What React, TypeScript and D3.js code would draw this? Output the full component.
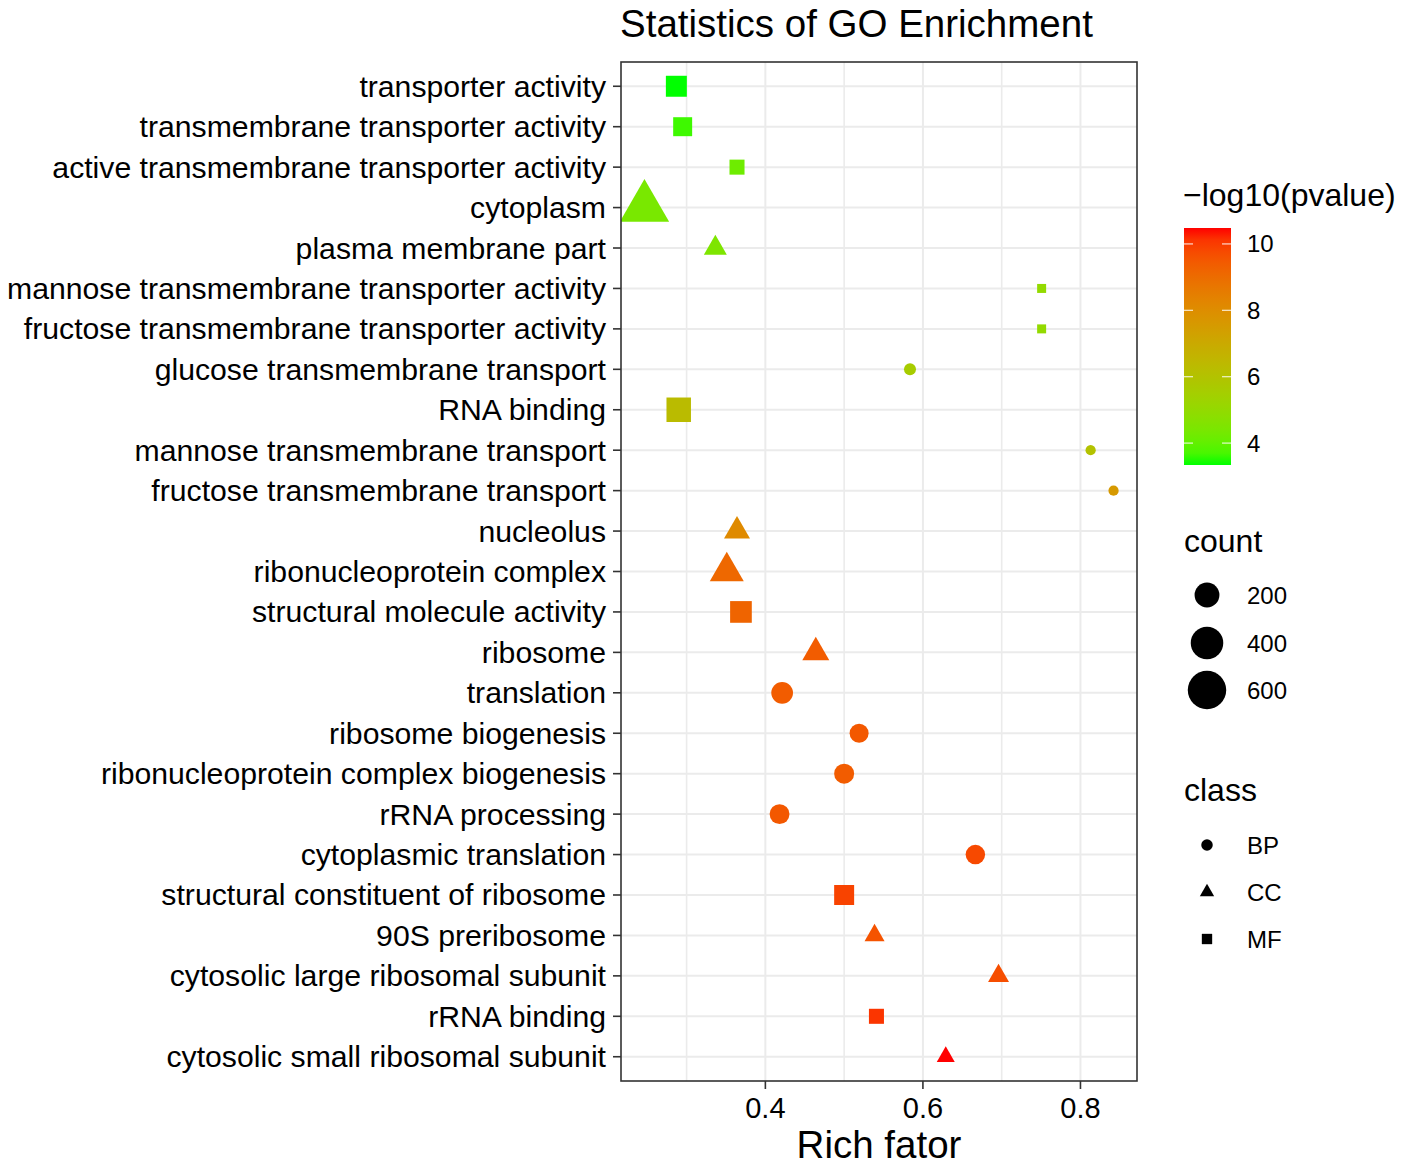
import React from "react";
import * as d3 from "d3";

const terms = [
  "transporter activity",
  "transmembrane transporter activity",
  "active transmembrane transporter activity",
  "cytoplasm",
  "plasma membrane part",
  "mannose transmembrane transporter activity",
  "fructose transmembrane transporter activity",
  "glucose transmembrane transport",
  "RNA binding",
  "mannose transmembrane transport",
  "fructose transmembrane transport",
  "nucleolus",
  "ribonucleoprotein complex",
  "structural molecule activity",
  "ribosome",
  "translation",
  "ribosome biogenesis",
  "ribonucleoprotein complex biogenesis",
  "rRNA processing",
  "cytoplasmic translation",
  "structural constituent of ribosome",
  "90S preribosome",
  "cytosolic large ribosomal subunit",
  "rRNA binding",
  "cytosolic small ribosomal subunit",
];
const classes = ["MF","MF","MF","CC","CC","MF","MF","BP","MF","BP","BP","CC","CC","MF","CC","BP","BP","BP","BP","BP","MF","CC","CC","MF","CC"];
const richFactor = [0.287,0.295,0.364,0.2465,0.3365,0.7507,0.7507,0.5836,0.290,0.8129,0.842,0.364,0.351,0.369,0.464,0.4213,0.519,0.500,0.418,0.6666,0.500,0.5386,0.696,0.541,0.629];
const negLogP = [3.34,3.6,4.2,4.4,4.5,5.0,5.0,5.6,6.3,6.0,7.6,8.1,9.1,9.2,9.4,9.4,9.5,9.4,9.5,9.8,9.9,9.6,9.7,10.1,10.48];
const counts = [168,127,63,640,85,8,8,19,254,9,9,122,254,184,136,138,94,109,107,101,147,55,64,63,38];

const colorTicks = [4, 6, 8, 10];
const sizeBreaks = [200, 400, 600];
const classLevels = ["BP", "CC", "MF"];
const xMajor = [0.4, 0.6, 0.8];
const xMinor = [0.3, 0.5, 0.7];

const FONT = "'Liberation Sans', Arial, Helvetica, sans-serif";

const shapeFor: Record<string, any> = {
  BP: d3.symbolCircle,
  CC: d3.symbolTriangle,
  MF: d3.symbolSquare,
};

// convert a "circle-equivalent diameter" into symbol area per shape
function symbolArea(cls: string, d: number) {
  if (cls === "BP") return Math.PI * (d / 2) * (d / 2);
  if (cls === "MF") {
    const s = d * 0.9;
    return s * s;
  }
  const s = d * 1.25; // triangle side
  return (Math.sqrt(3) / 4) * s * s;
}

export default function App() {
  const W = 1421, H = 1166;
  const pL = 621, pR = 1137, pT = 62, pB = 1081;

  const [xmin, xmax] = d3.extent(richFactor) as [number, number];
  const xpad = (xmax - xmin) * 0.05;
  const x = d3.scaleLinear().domain([xmin - xpad, xmax + xpad]).range([pL, pR]);
  const y = d3.scalePoint<string>().domain(terms).range([pT, pB]).padding(0.6);

  const [cmin, cmax] = d3.extent(negLogP) as [number, number];
  const color = d3.scaleLinear<string>().domain([cmin, cmax]).range(["#00ff00", "#ff0000"]).interpolate(d3.interpolateLab);

  const [nmin, nmax] = d3.extent(counts) as [number, number];
  const size = d3.scaleSqrt().domain([nmin, nmax]).range([10, 39.5]);

  // colorbar
  const cbX = 1184, cbW = 47, cbT = 228, cbB = 465;
  const cbY = d3.scaleLinear().domain([cmin, cmax]).range([cbB, cbT]);
  const stops = d3.range(0, 1.0001, 0.05).map((t) => ({ t, c: color(cmin + t * (cmax - cmin)) }));

  const sizeKeyY = [595, 643, 690];
  const classKeyY = [845, 892, 939];
  const keyX = 1207;

  return (
    <svg width={W} height={H} style={{ position: "absolute", left: 0, top: 0, background: "#fff" }} fontFamily={FONT}>
      <defs>
        <linearGradient id="cbar" x1="0" y1="1" x2="0" y2="0">
          {stops.map((s, i) => (
            <stop key={i} offset={s.t} stopColor={s.c} />
          ))}
        </linearGradient>
        <clipPath id="panel">
          <rect x={pL} y={pT} width={pR - pL} height={pB - pT} />
        </clipPath>
      </defs>

      {/* title */}
      <text x={620} y={37} fontSize={38.5} fill="#000">Statistics of GO Enrichment</text>

      {/* panel background & grid */}
      <rect x={pL} y={pT} width={pR - pL} height={pB - pT} fill="#fff" />
      {xMinor.map((v) => (
        <line key={"mi" + v} x1={x(v)} x2={x(v)} y1={pT} y2={pB} stroke="#ebebeb" strokeWidth={1.6} />
      ))}
      {xMajor.map((v) => (
        <line key={"ma" + v} x1={x(v)} x2={x(v)} y1={pT} y2={pB} stroke="#ebebeb" strokeWidth={2} />
      ))}
      {terms.map((t) => (
        <line key={"hg" + t} x1={pL} x2={pR} y1={y(t)} y2={y(t)} stroke="#ebebeb" strokeWidth={2} />
      ))}

      {/* points */}
      <g clipPath="url(#panel)">
        {terms.map((t, i) => {
          const cls = classes[i];
          const path = d3.symbol().type(shapeFor[cls]).size(symbolArea(cls, size(counts[i])))();
          return (
            <path key={"pt" + i} d={path || ""} transform={`translate(${x(richFactor[i])},${y(t)})`} fill={color(negLogP[i])} />
          );
        })}
      </g>

      {/* border */}
      <rect x={pL} y={pT} width={pR - pL} height={pB - pT} fill="none" stroke="#333333" strokeWidth={1.6} />

      {/* y axis */}
      {terms.map((t) => (
        <g key={"yt" + t}>
          <line x1={pL - 8} x2={pL} y1={y(t)} y2={y(t)} stroke="#333333" strokeWidth={1.6} />
          <text x={606} y={(y(t) as number) + 10.5} fontSize={30.2} textAnchor="end" fill="#000">{t}</text>
        </g>
      ))}

      {/* x axis */}
      {xMajor.map((v) => (
        <g key={"xt" + v}>
          <line x1={x(v)} x2={x(v)} y1={pB} y2={pB + 8} stroke="#333333" strokeWidth={1.6} />
          <text x={x(v)} y={1118} fontSize={29} textAnchor="middle" fill="#000">{d3.format(".1f")(v)}</text>
        </g>
      ))}
      <text x={(pL + pR) / 2} y={1158} fontSize={38.5} textAnchor="middle" fill="#000">Rich fator</text>

      {/* color legend */}
      <text x={1183} y={206} fontSize={32} fill="#000">−log10(pvalue)</text>
      <rect x={cbX} y={cbT} width={cbW} height={cbB - cbT} fill="url(#cbar)" />
      {colorTicks.map((v) => (
        <g key={"ct" + v}>
          <line x1={cbX} x2={cbX + 9} y1={cbY(v)} y2={cbY(v)} stroke="#fff" strokeOpacity={0.8} strokeWidth={1.2} />
          <line x1={cbX + cbW - 9} x2={cbX + cbW} y1={cbY(v)} y2={cbY(v)} stroke="#fff" strokeOpacity={0.8} strokeWidth={1.2} />
          <text x={1247} y={cbY(v) + 8.5} fontSize={24} fill="#000">{v}</text>
        </g>
      ))}

      {/* size legend */}
      <text x={1184} y={552} fontSize={32} fill="#000">count</text>
      {sizeBreaks.map((v, i) => (
        <g key={"sk" + v}>
          <circle cx={keyX} cy={sizeKeyY[i]} r={size(v) / 2} fill="#000" />
          <text x={1247} y={sizeKeyY[i] + 8.5} fontSize={24} fill="#000">{v}</text>
        </g>
      ))}

      {/* class legend */}
      <text x={1184} y={801} fontSize={32} fill="#000">class</text>
      {classLevels.map((c, i) => (
        <g key={"ck" + c}>
          <path d={d3.symbol().type(shapeFor[c]).size(symbolArea(c, 11.5))() || ""} transform={`translate(${keyX},${classKeyY[i]})`} fill="#000" />
          <text x={1247} y={classKeyY[i] + 8.5} fontSize={24} fill="#000">{c}</text>
        </g>
      ))}
    </svg>
  );
}
